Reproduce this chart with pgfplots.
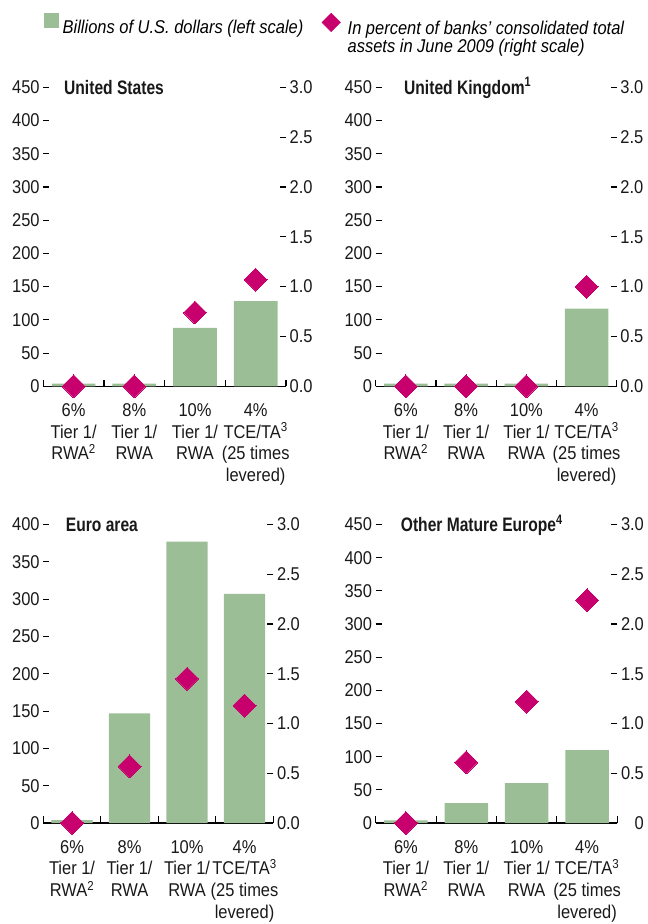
\documentclass[border=0pt]{standalone}
\usepackage{fontspec}
\setmainfont{Liberation Sans}[FakeStretch=0.89]
\newfontfamily\titlefont{Liberation Sans}[FakeStretch=0.8]
\usepackage{pgfplots}
\pgfplotsset{compat=1.18}
\definecolor{barg}{RGB}{156,190,150}
\definecolor{diamc}{RGB}{200,0,110}
\definecolor{txt}{RGB}{25,25,25}
\newcommand{\fs}{\fontsize{18.5bp}{21.7bp}\selectfont}
\newcommand{\tf}{\titlefont\bfseries\fontsize{19.5bp}{21bp}\selectfont}
\pgfplotsset{
  base/.style={scale only axis, clip=false, xmin=0.5, xmax=4.5, ymin=0,
    /pgf/number format/assume math mode=true,
    ticklabel style={font=\fs, text=txt},
    tick style={line width=1.1bp, black},
    major tick length=6bp, minor tick length=6.5bp,
    yticklabel style={inner xsep=3.5bp, inner ysep=0pt},
  },
  leftax/.style={base, axis x line*=bottom, axis y line*=left,
    y axis line style={draw=none}, x axis line style={line width=1.1bp, black},
    xtick={1,2,3,4}, minor xtick={0.5,1.5,2.5,3.5,4.5},
    major x tick style={draw=none},
    xticklabels={{6\%\\Tier 1/\\RWA\textsuperscript{2}},{8\%\\Tier 1/\\RWA},{10\%\\Tier 1/\\RWA},{4\%\\TCE/TA\textsuperscript{3}\\(25 times\\levered)}},
    xticklabel style={align=center, inner sep=0pt, yshift=-17bp},
    tick align=inside,
  },
  rightax/.style={base, axis y line*=right, axis x line=none,
    y axis line style={draw=none}, ymax=3,
    ytick={0,0.5,1,1.5,2,2.5,3},
    tick align=inside,
  },
  bars/.style={ybar, bar width=0.72, bar shift=0pt, fill=barg, draw=none},
  diam/.style={only marks, color=diamc, mark=square*, mark size=8.1bp,
    mark options={rotate=45, fill=diamc, draw=diamc, line width=0pt}},
}
\begin{document}
\begin{tikzpicture}
\path[use as bounding box] (0,0) rectangle (648bp,924bp);

% ---------- United States ----------
\begin{axis}[leftax, at={(43.3bp,537.7bp)}, anchor=south west,
  width=242.7bp, height=299bp, ymax=450, ytick={0,50,...,450},
  legend style={at={(rel axis cs:0.0029,1.2495)}, anchor=north west,
    draw=none, fill=none, inner sep=0pt, outer sep=0pt,
    font=\fs\itshape, nodes={inner sep=0pt}, column sep=4bp},
  legend cell align=left]
\addlegendimage{legend image code/.code={\fill[barg] (0bp,0.8bp) rectangle (14.3bp,14.8bp);}}
\addlegendentry{Billions of U.S. dollars (left scale)}
\addplot[bars, forget plot] coordinates {(1,4) (2,4) (3,88) (4,128)};
\node[anchor=base west, font=\tf, text=txt, inner sep=0pt] at ([xshift=20.7bp, yshift=-7bp]rel axis cs:0,1) {United States};
\end{axis}
\begin{axis}[rightax, at={(43.3bp,537.7bp)}, anchor=south west,
  width=242.7bp, height=299bp,
  yticklabels={0.0,0.5,1.0,1.5,2.0,2.5,3.0},
  legend style={at={(rel axis cs:1.1471,1.2488)}, anchor=north west,
    draw=none, fill=none, inner sep=0pt, outer sep=0pt,
    font=\fs\itshape, nodes={inner sep=0pt}, column sep=7bp, row sep=3.4bp},
  legend cell align=left]
\addlegendimage{legend image code/.code={\fill[diamc] (0bp,5.8bp) -- (9.3bp,15.1bp) -- (18.6bp,5.8bp) -- (9.3bp,-3.5bp) -- cycle;}}
\addlegendentry{In percent of banks’ consolidated total}
\addlegendimage{empty legend}
\addlegendentry{assets in June 2009 (right scale)}
\addplot[diam, forget plot] coordinates {(1,0) (2,0) (3,0.74) (4,1.07)};
\end{axis}

% ---------- United Kingdom ----------
\begin{axis}[leftax, at={(375.7bp,537.7bp)}, anchor=south west,
  width=241bp, height=299bp, ymax=450, ytick={0,50,...,450}]
\addplot[bars] coordinates {(1,4) (2,4) (3,4) (4,117)};
\node[anchor=base west, font=\tf, text=txt, inner sep=0pt] at ([xshift=28.3bp, yshift=-7bp]rel axis cs:0,1) {United Kingdom\textsuperscript{1}};
\end{axis}
\begin{axis}[rightax, at={(375.7bp,537.7bp)}, anchor=south west,
  width=241bp, height=299bp,
  yticklabels={0.0,0.5,1.0,1.5,2.0,2.5,3.0}]
\addplot[diam] coordinates {(1,0) (2,0) (3,0) (4,1.0)};
\end{axis}

% ---------- Euro area ----------
\begin{axis}[leftax, at={(43.3bp,101bp)}, anchor=south west,
  width=230bp, height=298.5bp, ymax=400, ytick={0,50,...,400}]
\addplot[bars] coordinates {(1,4) (2,147) (3,377) (4,307)};
\node[anchor=base west, font=\tf, text=txt, inner sep=0pt] at ([xshift=22.4bp, yshift=-7bp]rel axis cs:0,1) {Euro area};
\end{axis}
\begin{axis}[rightax, at={(43.3bp,101bp)}, anchor=south west,
  width=230bp, height=298.5bp,
  yticklabels={0.0,0.5,1.0,1.5,2.0,2.5,3.0}]
\addplot[diam] coordinates {(1,0) (2,0.57) (3,1.45) (4,1.18)};
\end{axis}

% ---------- Other Mature Europe ----------
\begin{axis}[leftax, at={(375.7bp,101bp)}, anchor=south west,
  width=241.6bp, height=298.5bp, ymax=450, ytick={0,50,...,450}]
\addplot[bars] coordinates {(1,4) (2,30) (3,60) (4,110)};
\node[anchor=base west, font=\tf, text=txt, inner sep=0pt] at ([xshift=25bp, yshift=-7bp]rel axis cs:0,1) {Other Mature Europe\textsuperscript{4}};
\end{axis}
\begin{axis}[rightax, at={(375.7bp,101bp)}, anchor=south west,
  width=241.6bp, height=298.5bp,
  yticklabels={\hphantom{0.}0,0.5,1.0,1.5,2.0,2.5,3.0}]
\addplot[diam] coordinates {(1,0) (2,0.61) (3,1.22) (4,2.24)};
\end{axis}
\end{tikzpicture}
\end{document}
